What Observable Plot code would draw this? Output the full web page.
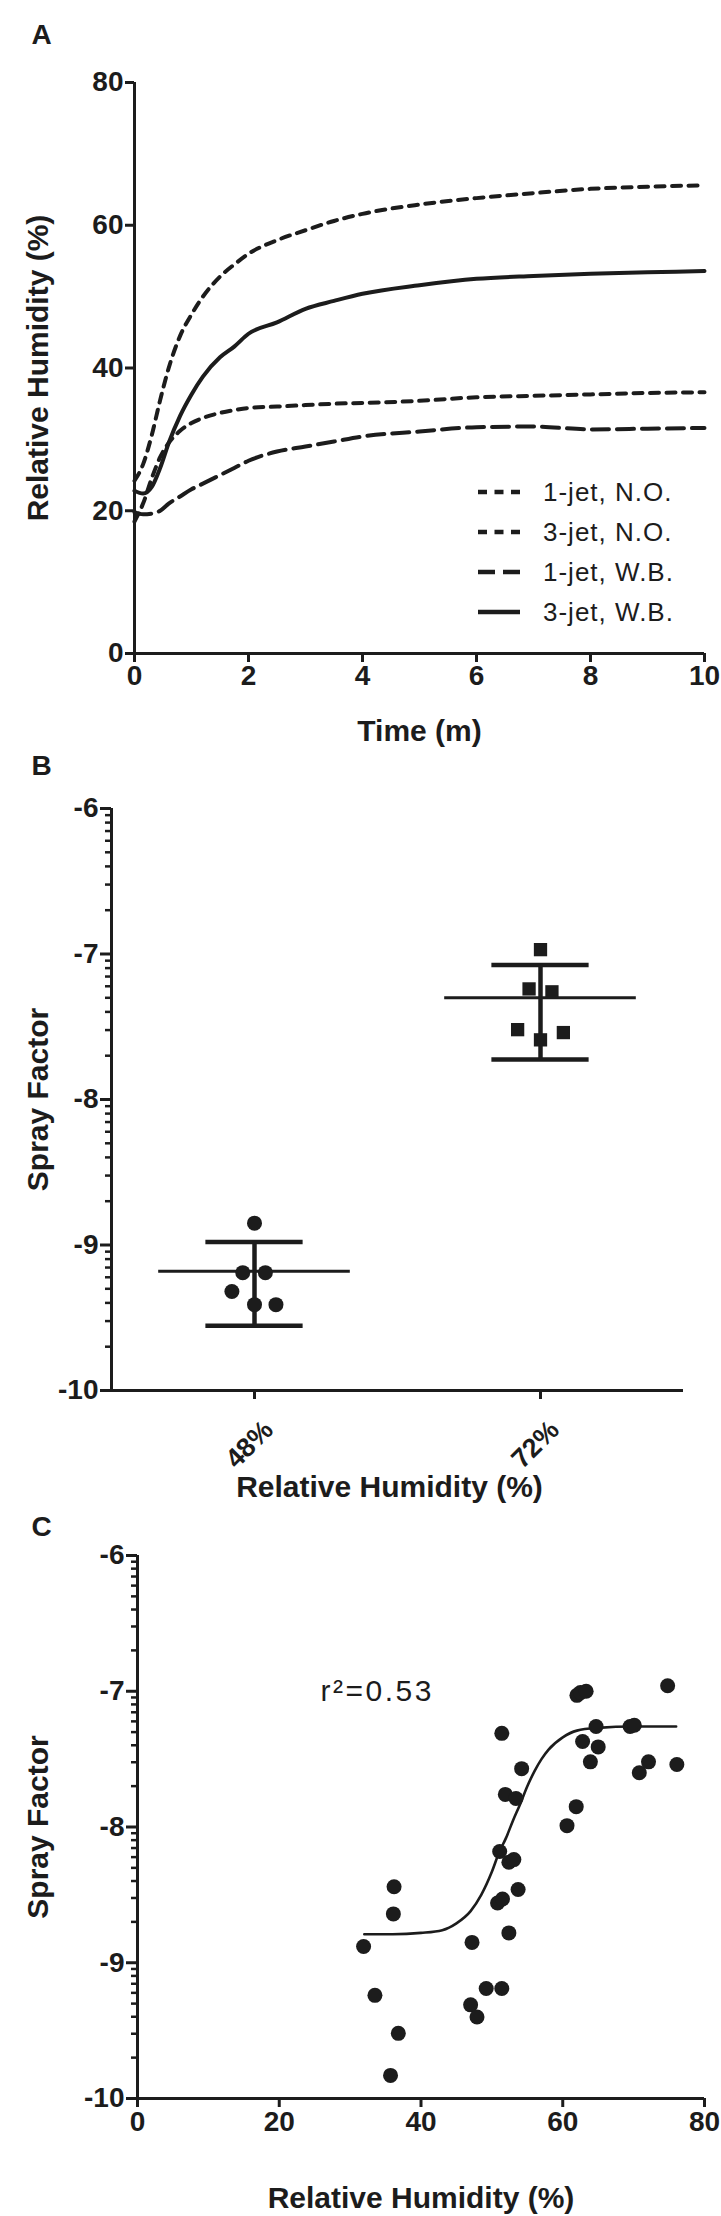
<!DOCTYPE html>
<html>
<head>
<meta charset="utf-8">
<script src="https://cdn.jsdelivr.net/npm/d3@7"></script>
<script src="https://cdn.jsdelivr.net/npm/@observablehq/plot@0.6"></script>
<style>
html, body { margin: 0; padding: 0; background: #fff; }
#fig { position: relative; width: 721px; height: 2216px; font-family: "Liberation Sans", Arial, Helvetica, sans-serif; color: #1c1c1c; overflow: hidden; }
#legend { position: absolute; left: 478px; top: 472px; }
#legend .row { display: flex; align-items: center; height: 40px; }
#legend svg { width: 44px; height: 10px; margin-right: 21px; }
#legend span { font-size: 26px; letter-spacing: 1px; line-height: 40px; }
</style>
</head>
<body>
<div id="fig"></div>
<script>
// ---------- Panel A: relative humidity over time ----------
const timeMin   = [0, 0.15, 0.3, 0.45, 0.6, 0.8, 1.0, 1.2, 1.5, 1.75, 2, 2.5, 3, 3.5, 4, 5, 6, 7, 8, 9, 10];
const rh1jetNO  = [18.5, 21, 24.5, 27.5, 29.5, 31.2, 32.3, 33, 33.7, 34.1, 34.4, 34.6, 34.8, 35, 35.1, 35.4, 35.9, 36.1, 36.3, 36.5, 36.6];
const rh3jetNO  = [24.2, 26.5, 30.5, 35.5, 40, 44.5, 47.5, 50, 52.8, 54.5, 56, 57.9, 59.3, 60.6, 61.6, 62.9, 63.8, 64.5, 65.1, 65.4, 65.6];
const rh1jetWB  = [19.8, 19.5, 19.6, 20, 21, 22, 23, 23.8, 25, 26, 27, 28.3, 29, 29.7, 30.4, 31.1, 31.7, 31.8, 31.4, 31.5, 31.6];
const rh3jetWB  = [22.8, 22.4, 23.3, 26, 29.5, 33.3, 36.3, 38.8, 41.5, 43, 44.8, 46.4, 48.3, 49.4, 50.4, 51.6, 52.5, 52.9, 53.2, 53.4, 53.6];
const seriesNames = ["1-jet, N.O.", "3-jet, N.O.", "1-jet, W.B.", "3-jet, W.B."];
const ticksAX = [0, 2, 4, 6, 8, 10];
const ticksAY = [0, 20, 40, 60, 80];

// ---------- Panel B: spray factor by RH group ----------
const groupsB  = ["48%", "72%"];
const sf48     = [-8.85, -9.19, -9.19, -9.32, -9.41, -9.41];
const spread48 = [0, -0.041, 0.038, -0.079, 0, 0.075];
const sf72     = [-6.97, -7.24, -7.26, -7.52, -7.54, -7.59];
const spread72 = [0, -0.04, 0.04, -0.08, 0.08, 0];
const meanB    = [-9.18, -7.30];
const lowB     = [-9.555, -7.725];
const highB    = [-8.98, -7.076];

// ---------- Panel C: spray factor vs RH ----------
const rhC = [31.9, 33.5, 36.2, 36.1, 36.8, 35.7, 47.2, 47.0, 47.9, 49.2, 51.4, 51.4, 51.1, 50.8, 51.5, 52.4, 51.9, 53.4, 52.4, 53.1, 53.7, 54.2, 60.6, 61.9, 62.0, 62.5, 63.3, 62.8, 63.9, 64.7, 65.0, 69.5, 70.1, 70.8, 72.1, 74.8, 76.1];
const sfC = [-8.88, -9.24, -8.44, -8.64, -9.52, -9.83, -8.85, -9.31, -9.40, -9.19, -9.19, -7.31, -8.18, -8.56, -8.53, -8.78, -7.76, -7.79, -8.26, -8.24, -8.46, -7.57, -7.99, -7.85, -7.03, -7.01, -7.00, -7.37, -7.52, -7.26, -7.41, -7.26, -7.25, -7.60, -7.52, -6.96, -7.54];
const fitRH = [32, 36, 40, 43, 45, 47, 48.5, 50, 51, 52, 53, 54, 55, 56, 57, 58, 60, 62, 65, 70, 76];
const fitSF = [-8.79, -8.79, -8.78, -8.76, -8.71, -8.62, -8.50, -8.33, -8.19, -8.08, -7.95, -7.83, -7.70, -7.59, -7.50, -7.43, -7.34, -7.29, -7.27, -7.26, -7.26];
const rSquared = "0.53";
const ticksCX = [0, 20, 40, 60, 80];
const ticksSF = [-6, -7, -8, -9, -10];

// ---------------------------------------------------------
const INK = "#1c1c1c";
const FONT = '"Liberation Sans", Arial, Helvetica, sans-serif';
const TICK_FONT = 28;
const baseStyle = {fontFamily: FONT, color: INK, background: "transparent", overflow: "visible"};
const fig = document.getElementById("fig");
function place(node, top) {
  node.style.position = "absolute";
  node.style.left = "0px";
  node.style.top = top + "px";
  fig.appendChild(node);
}
const sfFormat = d => String(d);
// log-style minor ticks inside each decade of the spray-factor axis
const minorSF = [];
for (const d of [-7, -8, -9, -10]) for (let k = 2; k <= 9; k++) minorSF.push(d + Math.log10(k));

function labelText(txt, opts) {
  return Plot.text([txt], {text: d => d, fontSize: 30, fontWeight: "bold", fill: INK, textAnchor: "middle", lineAnchor: "middle", ...opts});
}

// ---------- Panel A ----------
const dashes = {"1-jet, N.O.": "9,7.5", "3-jet, N.O.": "9,7.5", "1-jet, W.B.": "17,8", "3-jet, W.B.": null};
const valuesBySeries = {"1-jet, N.O.": rh1jetNO, "3-jet, N.O.": rh3jetNO, "1-jet, W.B.": rh1jetWB, "3-jet, W.B.": rh3jetWB};
const dataA = seriesNames.flatMap(name => timeMin.map((t, i) => ({t, v: valuesBySeries[name][i], name})));

const plotA = Plot.plot({
  width: 721, height: 745,
  marginLeft: 134, marginRight: 17, marginTop: 82, marginBottom: 92,
  style: baseStyle,
  x: {domain: [0, 10]},
  y: {domain: [0, 80]},
  marks: [
    Plot.axisY(ticksAY, {tickSize: 9, tickPadding: 2, fontSize: TICK_FONT, fontWeight: "bold", strokeWidth: 3, label: null}),
    Plot.axisX(ticksAX, {tickSize: 9, tickPadding: 3, fontSize: TICK_FONT, fontWeight: "bold", strokeWidth: 3, label: null}),
    Plot.ruleX([0], {strokeWidth: 3, stroke: INK}),
    Plot.ruleY([0], {strokeWidth: 3, stroke: INK}),
    ...seriesNames.map(name => Plot.line(dataA.filter(d => d.name === name), {
      x: "t", y: "v", stroke: INK, strokeWidth: 4, curve: "monotone-x",
      strokeDasharray: dashes[name] ?? undefined
    })),
    labelText("Time (m)", {frameAnchor: "bottom", dy: 78}),
    labelText("Relative Humidity (%)", {frameAnchor: "left", dx: -96, rotate: -90}),
    labelText("A", {frameAnchor: "top-left", dx: -93, dy: -47, fontSize: 28})
  ]
});
place(plotA, 0);

// legend for panel A
const legend = document.createElement("div");
legend.id = "legend";
for (const name of seriesNames) {
  const row = document.createElement("div");
  row.className = "row";
  const dash = dashes[name];
  row.innerHTML = `<svg viewBox="0 0 44 10"><line x1="0" y1="5" x2="42" y2="5" stroke="${INK}" stroke-width="4.5" ${dash ? `stroke-dasharray="${dash}"` : ""}/></svg><span>${name}</span>`;
  legend.appendChild(row);
}
fig.appendChild(legend);

// ---------- Panel B ----------
const pointsB = [
  ...sf48.map((v, i) => ({group: 0, x: 0.5 + spread48[i], v, shape: "circle"})),
  ...sf72.map((v, i) => ({group: 1, x: 1.5 + spread72[i], v, shape: "square"}))
];
const statsB = groupsB.map((g, i) => ({group: g, pos: i + 0.5, mean: meanB[i], lo: lowB[i], hi: highB[i]}));

const plotB = Plot.plot({
  width: 721, height: 745,
  marginLeft: 111, marginRight: 38, marginTop: 63, marginBottom: 100,
  style: baseStyle,
  x: {domain: [0, 2]},
  y: {domain: [-10, -6]},
  symbol: {domain: ["circle", "square"], range: ["circle", "square"]},
  marks: [
    Plot.axisY(minorSF, {tickSize: 6, tickFormat: () => "", strokeWidth: 2.5, label: null}),
    Plot.axisY(ticksSF, {tickSize: 11, tickPadding: 2, tickFormat: sfFormat, fontSize: TICK_FONT, fontWeight: "bold", strokeWidth: 3, label: null}),
    Plot.axisX(statsB.map(d => d.pos), {tickSize: 9, tickFormat: () => "", strokeWidth: 3, label: null}),
    Plot.text(statsB, {x: "pos", text: "group", frameAnchor: "bottom", rotate: -45, textAnchor: "end", lineAnchor: "middle", dx: 14, dy: 35, fontSize: 27, fontWeight: "bold", fill: INK}),
    Plot.ruleX([0], {strokeWidth: 3, stroke: INK}),
    Plot.ruleY([-10], {strokeWidth: 3, stroke: INK}),
    Plot.ruleY(statsB, {x1: d => d.pos - 0.335, x2: d => d.pos + 0.335, y: "mean", stroke: INK, strokeWidth: 3}),
    Plot.ruleY(statsB, {x1: d => d.pos - 0.17, x2: d => d.pos + 0.17, y: "lo", stroke: INK, strokeWidth: 4.5}),
    Plot.ruleY(statsB, {x1: d => d.pos - 0.17, x2: d => d.pos + 0.17, y: "hi", stroke: INK, strokeWidth: 4.5}),
    Plot.ruleX(statsB, {x: "pos", y1: "lo", y2: "hi", stroke: INK, strokeWidth: 4.5}),
    Plot.dot(pointsB, {x: "x", y: "v", symbol: "shape", r: 7.5, fill: INK, stroke: "none"}),
    labelText("Relative Humidity (%)", {frameAnchor: "bottom", dx: -8, dy: 97}),
    labelText("Spray Factor", {frameAnchor: "left", dx: -73, rotate: -90}),
    labelText("B", {frameAnchor: "top-left", dx: -70, dy: -42, fontSize: 28})
  ]
});
place(plotB, 745);

// ---------- Panel C ----------
const pointsC = rhC.map((x, i) => ({x, y: sfC[i]}));
const fitC = fitRH.map((x, i) => ({x, y: fitSF[i]}));

const plotC = Plot.plot({
  width: 721, height: 726,
  marginLeft: 137, marginRight: 17, marginTop: 65, marginBottom: 118,
  style: baseStyle,
  x: {domain: [0, 80]},
  y: {domain: [-10, -6]},
  marks: [
    Plot.axisY(minorSF, {tickSize: 6, tickFormat: () => "", strokeWidth: 2.5, label: null}),
    Plot.axisY(ticksSF, {tickSize: 11, tickPadding: 2, tickFormat: sfFormat, fontSize: TICK_FONT, fontWeight: "bold", strokeWidth: 3, label: null}),
    Plot.axisX(ticksCX, {tickSize: 9, tickPadding: 4, fontSize: TICK_FONT, fontWeight: "bold", strokeWidth: 3, label: null}),
    Plot.ruleX([0], {strokeWidth: 3, stroke: INK}),
    Plot.ruleY([-10], {strokeWidth: 3, stroke: INK}),
    Plot.line(fitC, {x: "x", y: "y", stroke: INK, strokeWidth: 2.6, curve: "monotone-x"}),
    Plot.dot(pointsC, {x: "x", y: "y", r: 7.5, fill: INK, stroke: "none"}),
    Plot.text([`r²=${rSquared}`], {text: d => d, frameAnchor: "top-left", dx: 183, dy: 136, textAnchor: "start", lineAnchor: "middle", fontSize: 30, fill: INK}),
    labelText("Relative Humidity (%)", {frameAnchor: "bottom", dy: 100}),
    labelText("Spray Factor", {frameAnchor: "left", dx: -99, rotate: -90}),
    labelText("C", {frameAnchor: "top-left", dx: -96, dy: -28, fontSize: 28})
  ]
});
place(plotC, 1490);
plotC.querySelectorAll("text").forEach(t => { if (t.textContent.startsWith("r²")) t.style.letterSpacing = "2.5px"; });
</script>
</body>
</html>
